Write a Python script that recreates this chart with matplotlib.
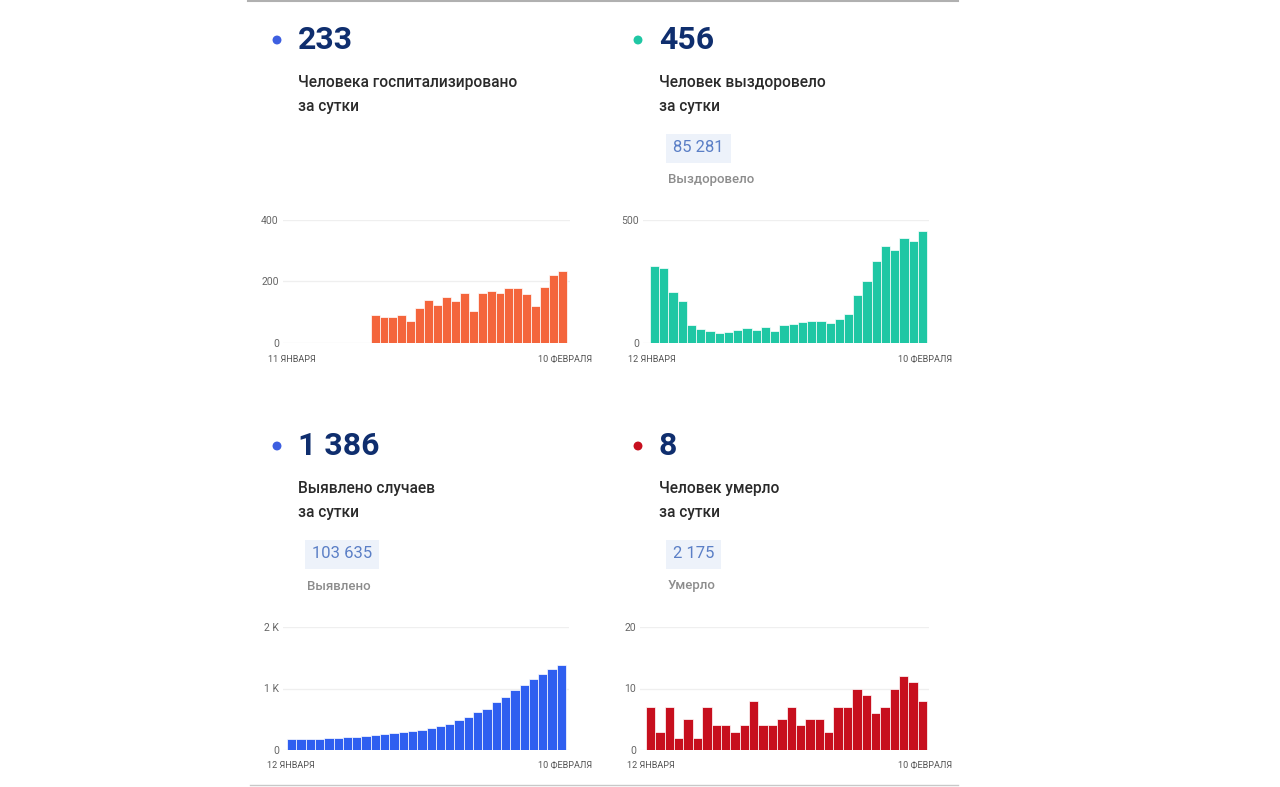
"""
COVID daily stats dashboard — four small bar panels with headline numbers.
"""

import matplotlib.pyplot as plt
from matplotlib.patches import Ellipse
import numpy as np

plt.rcParams["font.family"] = ["Roboto", "DejaVu Sans"]

W, H = 1280, 787

# ---------------------------------------------------------------------------
# Data
# ---------------------------------------------------------------------------

# hospitalized: 31 days (11 Jan .. 10 Feb), first 9 days without data
hosp_values = [np.nan] * 9 + [90, 84, 86, 91, 70, 115, 140, 122, 151, 137, 161,
                              104, 164, 168, 161, 178, 178, 158, 120, 183, 222, 233]
hosp_ticks = [0, 200, 400]
hosp_ticklabels = ["0", "200", "400"]

# recovered: 30 days (12 Jan .. 10 Feb)
recov_values = [313, 303, 208, 172, 73, 55, 47, 41, 46, 51, 59, 54, 65, 49, 74,
                78, 86, 89, 91, 82, 96, 116, 196, 251, 335, 396, 380, 427, 415, 456]
recov_ticks = [0, 500]
recov_ticklabels = ["0", "500"]

# new cases: 30 days
cases_values = [178, 178, 178, 184, 189, 195, 205, 216, 227, 238, 254, 270, 286,
                303, 330, 357, 389, 427, 486, 541, 611, 670, 773, 859, 973, 1054,
                1157, 1243, 1314, 1386]
cases_ticks = [0, 1000, 2000]
cases_ticklabels = ["0", "1 K", "2 K"]

# deaths: 30 days
death_values = [7, 3, 7, 2, 5, 2, 7, 4, 4, 3, 4, 8, 4, 4, 5, 7, 4, 5, 5, 3, 7, 7,
                10, 9, 6, 7, 10, 12, 11, 8]
death_ticks = [0, 10, 20]
death_ticklabels = ["0", "10", "20"]

headline = ["233", "456", "1 386", "8"]
subtitle = [
    ["Человека госпитализировано", "за сутки"],
    ["Человек выздоровело", "за сутки"],
    ["Выявлено случаев", "за сутки"],
    ["Человек умерло", "за сутки"],
]
totals = [None, "85 281", "103 635", "2 175"]
total_labels = [None, "Выздоровело", "Выявлено", "Умерло"]
date_start = ["11 ЯНВАРЯ", "12 ЯНВАРЯ", "12 ЯНВАРЯ", "12 ЯНВАРЯ"]
date_end = ["10 ФЕВРАЛЯ"] * 4

# ---------------------------------------------------------------------------
# Styling
# ---------------------------------------------------------------------------

NAVY = "#0f2e6e"
TEXT = "#2a2a2a"
GREY = "#8c8c8c"
TICK = "#666666"
BOX_BG = "#edf2fa"
BOX_TXT = "#5b7fc6"

bar_colors = ["#f4653c", "#1fc7a4", "#2f5ff0", "#c70f1e"]
dot_colors = ["#3d5fe0", "#1fc7a4", "#3d5fe0", "#c70f1e"]


def fx(x):
    return x / W


def fy(y):
    return 1 - y / H


fig = plt.figure(figsize=(W / 100, H / 100), dpi=100)
fig.patch.set_facecolor("white")

# card border lines
fig.add_artist(plt.Line2D([fx(248), fx(958)], [fy(1), fy(1)], color="#b0b0b0", lw=1.5))
fig.add_artist(plt.Line2D([fx(250), fx(958)], [fy(785), fy(785)], color="#c8c8c8", lw=1.0))

# ---- header blocks ---------------------------------------------------------
header_x = [298, 659, 298, 659]
header_y = [40, 40, 446, 446]

for i in range(4):
    hx, hy = header_x[i], header_y[i]
    fig.add_artist(Ellipse((fx(hx - 21), fy(hy)), 7.5 / W, 7.5 / H,
                           color=dot_colors[i], transform=fig.transFigure))
    fig.text(fx(hx), fy(hy), headline[i], fontsize=23, fontweight="bold",
             color=NAVY, ha="left", va="center")
    fig.text(fx(hx), fy(hy + 43), subtitle[i][0], fontsize=11.2, fontweight="medium",
             color=TEXT, ha="left", va="center")
    fig.text(fx(hx), fy(hy + 67), subtitle[i][1], fontsize=11.2, fontweight="medium",
             color=TEXT, ha="left", va="center")
    if totals[i]:
        bx = hx + 14
        fig.text(fx(bx), fy(hy + 108), totals[i], fontsize=12, color=BOX_TXT,
                 ha="left", va="center",
                 bbox=dict(boxstyle="square,pad=0.42", fc=BOX_BG, ec="none"))
        fig.text(fx(hx + 9), fy(hy + 140), total_labels[i], fontsize=9.5,
                 fontweight="medium", color=GREY, ha="left", va="center")

# ---- bar panels ------------------------------------------------------------
panels = [
    (hosp_values, hosp_ticks, hosp_ticklabels, (283, 570, 220, 343), (-1.32, 30.84)),
    (recov_values, recov_ticks, recov_ticklabels, (643, 929, 220, 343), (-1.26, 29.7)),
    (cases_values, cases_ticks, cases_ticklabels, (283, 569, 627, 750), (-0.93, 29.82)),
    (death_values, death_ticks, death_ticklabels, (640, 929, 627, 750), (-1.14, 29.7)),
]
label_y = [359, 359, 765, 765]
label_x0 = [268, 628, 267, 627]
label_x1 = [592, 952, 592, 952]

for i, (vals, ticks, tlabels, (x0, x1, y0, y1), xl) in enumerate(panels):
    ax = fig.add_axes([fx(x0), fy(y1), (x1 - x0) / W, (y1 - y0) / H])
    vals = np.array(vals, dtype=float)
    x = np.arange(len(vals))
    for t in ticks:
        ax.axhline(t, color="#efefef", lw=0.9, zorder=0)
    ax.bar(x, np.nan_to_num(vals), width=1.0, color=bar_colors[i],
           edgecolor="white", linewidth=0.5, zorder=2)
    ax.set_xlim(*xl)
    ax.set_ylim(ticks[0], ticks[-1])
    ax.set_yticks(ticks)
    ax.set_yticklabels(tlabels)
    ax.set_xticks([])
    ax.tick_params(axis="y", length=0, pad=3, labelsize=7.5, labelcolor=TICK)
    for spine in ax.spines.values():
        spine.set_visible(False)
    ax.patch.set_alpha(0)

    fig.text(fx(label_x0[i]), fy(label_y[i]), date_start[i], fontsize=6.6,
             color="#555555", ha="left", va="center")
    fig.text(fx(label_x1[i]), fy(label_y[i]), date_end[i], fontsize=6.6,
             color="#555555", ha="right", va="center")

fig.savefig("out.png", dpi=100, facecolor="white")
